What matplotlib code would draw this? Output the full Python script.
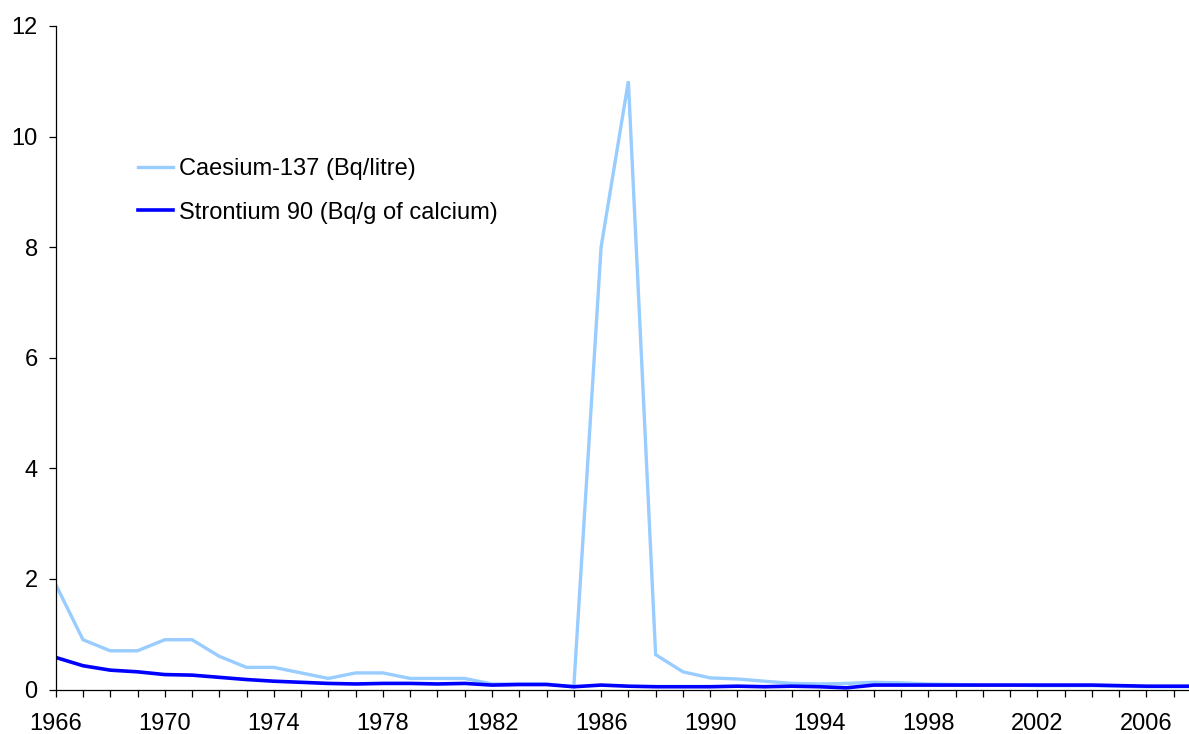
import matplotlib
matplotlib.use("Agg")
import matplotlib.pyplot as plt
from matplotlib.ticker import FixedLocator, MultipleLocator

plt.rcParams['font.family'] = ['Liberation Sans', 'DejaVu Sans']

years = list(range(1966, 2009))

caesium = [1.9, 0.9, 0.7, 0.7, 0.9, 0.9, 0.6, 0.4, 0.4, 0.3,
           0.2, 0.3, 0.3, 0.2, 0.2, 0.2, 0.1, 0.1, 0.1, 0.05,
           8.0, 11.0, 0.63, 0.32, 0.21, 0.19, 0.15, 0.11, 0.1, 0.11,
           0.13, 0.12, 0.1, 0.09, 0.08, 0.08, 0.07, 0.07, 0.07, 0.06,
           0.05, 0.05, 0.05]

strontium = [0.58, 0.43, 0.35, 0.32, 0.27, 0.26, 0.22, 0.18, 0.15, 0.13,
             0.11, 0.1, 0.11, 0.11, 0.1, 0.11, 0.08, 0.09, 0.09, 0.05,
             0.08, 0.06, 0.05, 0.05, 0.05, 0.06, 0.05, 0.06, 0.05, 0.03,
             0.08, 0.08, 0.08, 0.08, 0.08, 0.08, 0.08, 0.08, 0.08, 0.07,
             0.06, 0.06, 0.06]

labels = ["Caesium-137 (Bq/litre)", "Strontium 90 (Bq/g of calcium)"]
label_years = list(range(1966, 2008, 4))

fig = plt.figure(figsize=(11.89, 7.34), dpi=100)
ax = fig.add_axes([55.7 / 1189, 1 - 689.5 / 734, (1201 - 55.7) / 1189, (689.5 - 26) / 734])

ax.plot(years, caesium, color="#99CCFF", lw=2.4, label=labels[0], solid_joinstyle="miter")
ax.plot(years, strontium, color="#0000FF", lw=2.6, label=labels[1], solid_joinstyle="miter")

ax.set_xlim(1966, 2008)
ax.set_ylim(0, 12)
ax.xaxis.set_major_locator(FixedLocator(label_years))
ax.xaxis.set_minor_locator(MultipleLocator(1))
ax.yaxis.set_major_locator(MultipleLocator(2))

for s in ["top", "right"]:
    ax.spines[s].set_visible(False)
for s in ["left", "bottom"]:
    ax.spines[s].set_linewidth(0.9)

ax.tick_params(axis="x", which="both", direction="out", length=5, width=0.9, pad=12, labelsize=17)
ax.tick_params(axis="y", which="major", direction="out", length=5, width=0.9, pad=8, labelsize=17)

ax.legend(loc="upper left", bbox_to_anchor=(138 / 1189, 1 - 158 / 734), bbox_transform=fig.transFigure,
          frameon=False, fontsize=17, handlelength=1.5, handletextpad=0.25, labelspacing=0.92,
          borderaxespad=0, borderpad=0)

fig.savefig("out.png", dpi=100)
